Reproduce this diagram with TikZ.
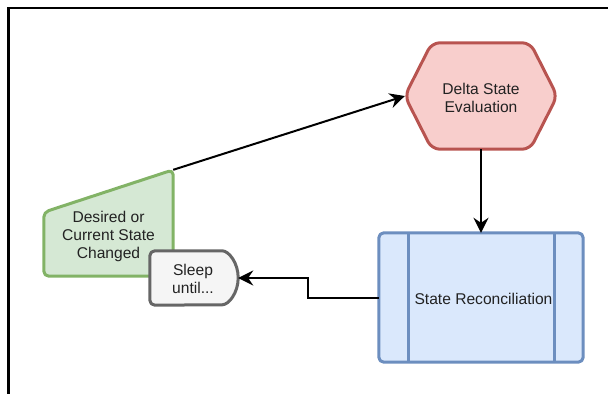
\documentclass[tikz,border=0pt]{standalone}
\usepackage{fontspec}
\setmainfont{Liberation Sans}
\usetikzlibrary{arrows.meta}

\definecolor{gruenF}{HTML}{D5E8D4}
\definecolor{gruenR}{HTML}{82B366}
\definecolor{rotF}{HTML}{F8CECC}
\definecolor{rotR}{HTML}{B85450}
\definecolor{blauF}{HTML}{DAE8FC}
\definecolor{blauR}{HTML}{6C8EBF}
\definecolor{grauF}{HTML}{F5F5F5}
\definecolor{grauR}{HTML}{666666}
\definecolor{textgrau}{HTML}{222222}

\begin{document}
\begin{tikzpicture}[x=1pt, y=-1pt,
	txt/.style = {text=textgrau, align=center, font=\fontsize{15.6}{18}\selectfont},
	feld/.style = {inner sep=0pt},
	rand/.style = {line width=3pt, rounded corners=5pt, line join=round},
	pfeil/.style = {-{Stealth[length=15pt,width=15pt,inset=5pt]}, line width=2pt}]
%
%Rahmen

\useasboundingbox (0,0) rectangle (608,394);

\def \rb {2.5pt}

\draw [line width=\rb] (608,7.8) -- (8.7,7.8) -- (8.7,394);

%Knoten

\node (gruen) [feld, minimum width=129pt, minimum height=106pt] at (108.5,223) {};
\node (schlaf) [feld, minimum width=88pt, minimum height=54pt] at (194,278) {};
\node (delta) [feld, minimum width=152pt, minimum height=106pt] at (481,96) {};
\node (abgleich) [feld, minimum width=204pt, minimum height=129pt] at (481,297.5) {};

\coordinate (knick) at (308,0);

%Formen

	\draw [rand, draw=gruenR, fill=gruenF] (gruen.south west) -- ([yshift=64pt]gruen.south west)
		-- (gruen.north east) -- (gruen.south east) -- cycle;

	\draw [rand, draw=grauR, fill=grauF] (schlaf.north west) -- ([xshift=-21pt]schlaf.north east)
		arc [start angle=90, end angle=-90, x radius=21pt, y radius=27pt] -- (schlaf.south west) -- cycle;

	\draw [rand, rounded corners=8pt, draw=rotR, fill=rotF] (delta.west) -- ([xshift=27pt]delta.north west)
		-- ([xshift=-27pt]delta.north east) -- (delta.east) -- ([xshift=-27pt]delta.south east)
		-- ([xshift=27pt]delta.south west) -- cycle;

	\draw [rand, draw=blauR, fill=blauF] (abgleich.south west) rectangle (abgleich.north east);
	\draw [line width=3pt, blauR] ([xshift=30pt]abgleich.north west) -- ([xshift=30pt]abgleich.south west);
	\draw [line width=3pt, blauR] ([xshift=-29pt]abgleich.north east) -- ([xshift=-29pt]abgleich.south east);

%Texte

\node (gruentext) [txt] at (108.5,236) {Desired or\\Current State\\Changed};
\node (schlaftext) [txt] at (193,279) {Sleep\\until...};
\node (deltatext) [txt] at (481,98) {Delta State\\Evaluation};
\node (abgleichtext) [txt] at (483.5,299) {State Reconciliation};

%Pfeile

	\draw [pfeil] (gruen.north east) -- (delta.west);
	\draw [pfeil] (delta.south) -- (abgleich.north);
	\draw [pfeil] (abgleich.west) -| (knick |- schlaf.east) -- (schlaf.east);

\end{tikzpicture}
\end{document}
